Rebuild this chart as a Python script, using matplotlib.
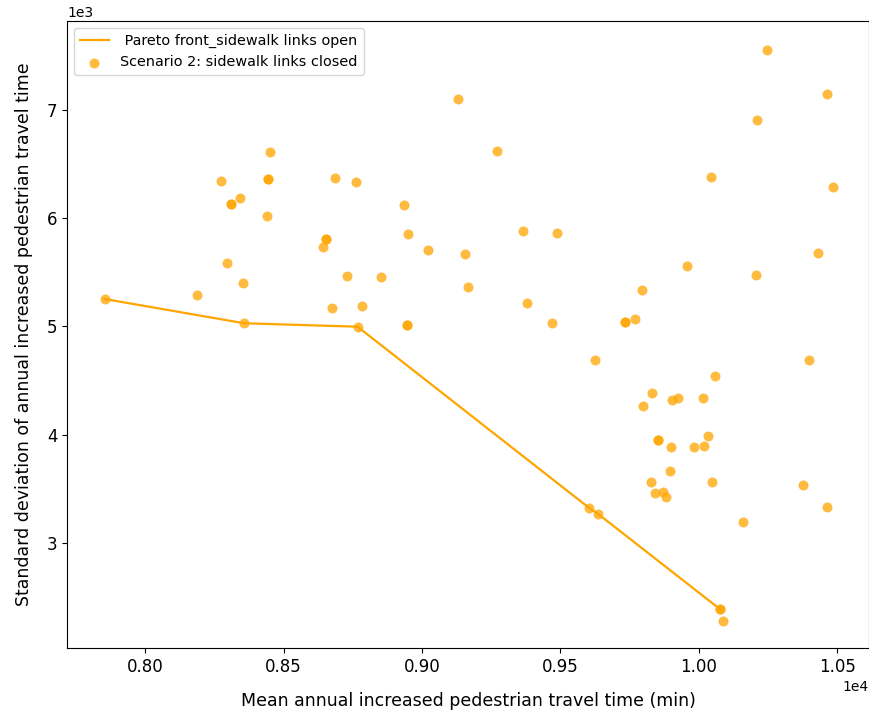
import matplotlib
matplotlib.use("Agg")
import matplotlib.pyplot as plt

# Pareto front (sidewalk links open)
pareto_x = [7853, 8357, 8767, 9604, 9635, 10075]
pareto_y = [5253, 5029, 4997, 3322, 3269, 2390]

# Scenario 2: sidewalk links closed
scen_x = [7853, 8186, 8295, 8352, 8272, 8309, 8309, 8341, 8357, 8438, 8449, 8443, 8443,
          8643, 8653, 8653, 8684, 8730, 8761, 8674, 8783, 8767, 8850, 8947, 8947, 8934,
          8949, 9021, 9130, 9156, 9167, 9271, 9365, 9488, 9380, 9469, 9733, 9733, 9770,
          9796, 9624, 9604, 9635, 9800, 9832, 9904, 9926, 10014, 10035, 10060, 9852, 9852,
          9899, 9982, 10020, 9895, 9826, 10046, 9842, 9870, 9883, 10075, 10075, 10086,
          10159, 10248, 10211, 10465, 10045, 10486, 9957, 10205, 10429, 10398, 10377, 10465]
scen_y = [5253, 5293, 5586, 5398, 6344, 6134, 6134, 6184, 5029, 6023, 6612, 6358, 6358,
          5731, 5811, 5811, 6372, 5466, 6332, 5173, 5186, 4997, 5457, 5013, 5013, 6119,
          5851, 5706, 7104, 5666, 5362, 6624, 5879, 5866, 5212, 5027, 5039, 5039, 5066,
          5334, 4692, 3322, 3269, 4267, 4387, 4320, 4334, 4334, 3987, 4546, 3948, 3948,
          3881, 3883, 3895, 3666, 3560, 3560, 3458, 3468, 3426, 2390, 2390, 2282,
          3188, 7557, 6905, 7145, 6385, 6291, 5558, 5478, 5678, 4692, 3534, 3334]

fig = plt.figure(figsize=(8.7, 7.1), dpi=100)
ax = fig.add_axes([67/870, 62/710, 802/870, 627/710])

ax.plot(pareto_x, pareto_y, color="orange", linewidth=1.6,
        label=" Pareto front_sidewalk links open")
ax.scatter(scen_x, scen_y, color="orange", alpha=0.75, s=52, linewidths=0,
           label="Scenario 2: sidewalk links closed")

ax.set_xlim(7717, 10615)
ax.set_ylim(2028, 7822)
ax.ticklabel_format(style="sci", axis="both", scilimits=(0, 0))
ax.tick_params(labelsize=12)
ax.xaxis.get_offset_text().set_fontsize(10)
ax.yaxis.get_offset_text().set_fontsize(10)

ax.set_xlabel("Mean annual increased pedestrian travel time (min)", fontsize=12.5, labelpad=12)
ax.set_ylabel("Standard deviation of annual increased pedestrian travel time",
              fontsize=12.5, labelpad=10)
ax.legend(loc="upper left", fontsize=10.4)

fig.savefig("out.png", dpi=100)
